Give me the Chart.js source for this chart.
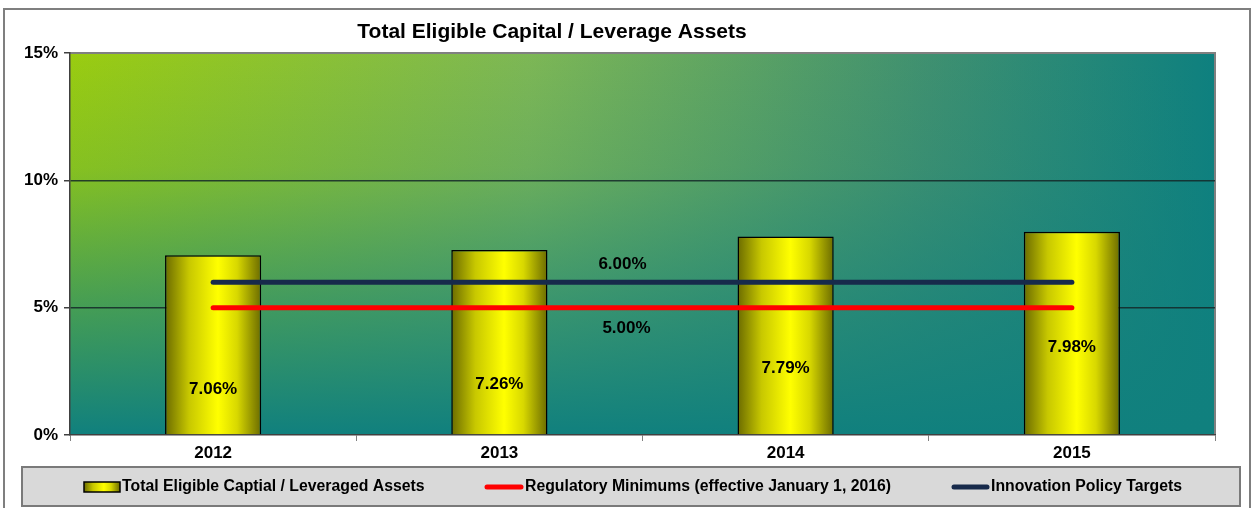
<!DOCTYPE html>
<html>
<head>
<meta charset="utf-8">
<script src="https://cdn.jsdelivr.net/npm/chart.js@4"></script>
<style>
  html, body { margin: 0; padding: 0; background: #fff; }
  #wrap { width: 1253px; height: 508px; position: relative; }
</style>
</head>
<body>
<div id="wrap"><canvas id="myChart" width="1253" height="508"></canvas></div>
<script>
// data
var years = ['2012', '2013', '2014', '2015'];
var capitalRatio = [7.06, 7.26, 7.79, 7.98];
var regulatoryMin = [5, 5, 5, 5];
var policyTarget = [6, 6, 6, 6];
var yTicks = [0, 5, 10, 15];

var titleText = 'Total Eligible Capital / Leverage Assets';
var seriesNames = ['Total Eligible Captial / Leveraged Assets',
                   'Regulatory Minimums (effective January 1, 2016)',
                   'Innovation Policy Targets'];

// where the value labels sit inside the bars (in axis units)
var barLabelAt = [1.8, 2.0, 2.6, 3.45];

var FONT = 'Arial, "Liberation Sans", sans-serif';

function barGradient(ctx, x0, x1) {
    var g = ctx.createLinearGradient(x0, 0, x1, 0);
    g.addColorStop(0, '#6b6b00');
    g.addColorStop(0.25, '#c8c800');
    g.addColorStop(0.55, '#ffff00');
    g.addColorStop(0.75, '#d8d800');
    g.addColorStop(1, '#6b6b00');
    return g;
}

// background, frame, title, labels and legend
var decor = {
    id: 'decor',
    beforeDraw: function(chart) {
        var ctx = chart.ctx, a = chart.chartArea;
        ctx.save();
        ctx.fillStyle = '#ffffff';
        ctx.fillRect(0, 0, chart.width, chart.height);
        // outer frame
        ctx.strokeStyle = '#7f7f7f';
        ctx.lineWidth = 2;
        ctx.strokeRect(4, 9, 1246, 520);
        // plot area gradient
        var gh = ctx.createLinearGradient(a.left, 0, a.right, 0);
        gh.addColorStop(0, '#9acc10');
        gh.addColorStop(0.4, '#7db755');
        gh.addColorStop(0.75, '#3f9070');
        gh.addColorStop(1, '#0e807f');
        ctx.fillStyle = gh;
        ctx.fillRect(a.left, a.top, a.right - a.left, a.bottom - a.top);
        var gv = ctx.createLinearGradient(0, a.top, 0, a.bottom);
        gv.addColorStop(0, 'rgba(16,128,126,0)');
        gv.addColorStop(0.3, 'rgba(16,128,126,0.15)');
        gv.addColorStop(0.65, 'rgba(16,128,126,0.6)');
        gv.addColorStop(1, 'rgba(16,128,126,1)');
        ctx.fillStyle = gv;
        ctx.fillRect(a.left, a.top, a.right - a.left, a.bottom - a.top);
        // plot border top/right
        ctx.strokeStyle = '#808080';
        ctx.lineWidth = 2;
        ctx.beginPath();
        ctx.moveTo(a.left, a.top);
        ctx.lineTo(a.right, a.top);
        ctx.lineTo(a.right, a.bottom);
        ctx.stroke();
        // title
        ctx.fillStyle = '#000';
        ctx.font = 'bold 21px ' + FONT;
        ctx.textAlign = 'center';
        ctx.textBaseline = 'middle';
        ctx.fillText(titleText, 552, 32);
        ctx.restore();
    },
    afterDatasetsDraw: function(chart) {
        var ctx = chart.ctx, a = chart.chartArea;
        var xs = chart.scales.x, ys = chart.scales.y;
        ctx.save();
        ctx.fillStyle = '#000';
        ctx.font = 'bold 17px ' + FONT;
        ctx.textAlign = 'center';
        ctx.textBaseline = 'middle';
        capitalRatio.forEach(function(v, i) {
            ctx.fillText(v.toFixed(2) + '%', xs.getPixelForValue(i), ys.getPixelForValue(barLabelAt[i]));
        });
        var mid = (xs.getPixelForValue(1) + xs.getPixelForValue(2)) / 2 - 20;
        ctx.fillText(policyTarget[0].toFixed(2) + '%', mid, ys.getPixelForValue(policyTarget[0]) - 18);
        ctx.fillText(regulatoryMin[0].toFixed(2) + '%', mid + 4, ys.getPixelForValue(regulatoryMin[0]) + 21);

        // legend box
        ctx.fillStyle = '#d9d9d9';
        ctx.fillRect(22, 467, 1218, 39);
        ctx.strokeStyle = '#7a7a7a';
        ctx.lineWidth = 2;
        ctx.strokeRect(22, 467, 1218, 39);
        var ly = 487;
        ctx.fillStyle = barGradient(ctx, 84, 120);
        ctx.fillRect(84, ly - 5, 36, 10);
        ctx.strokeStyle = '#000';
        ctx.lineWidth = 1.5;
        ctx.strokeRect(84, ly - 5, 36, 10);
        ctx.lineCap = 'round';
        ctx.lineWidth = 5;
        ctx.strokeStyle = '#ff0000';
        ctx.beginPath(); ctx.moveTo(487, ly); ctx.lineTo(521, ly); ctx.stroke();
        ctx.strokeStyle = '#172a4b';
        ctx.beginPath(); ctx.moveTo(954, ly); ctx.lineTo(987, ly); ctx.stroke();
        ctx.fillStyle = '#000';
        ctx.font = 'bold 15.8px ' + FONT;
        ctx.textAlign = 'left';
        ctx.fillText(seriesNames[0], 122, ly);
        ctx.fillText(seriesNames[1], 525, ly);
        ctx.fillText(seriesNames[2], 991, ly);
        ctx.restore();
    }
};

var ctx = document.getElementById('myChart').getContext('2d');
var myChart = new Chart(ctx, {
    type: 'bar',
    data: {
        labels: years,
        datasets: [{
            label: seriesNames[2],
            type: 'line',
            data: policyTarget,
            borderColor: '#172a4b',
            borderWidth: 5,
            borderCapStyle: 'round',
            pointRadius: 0,
            fill: false,
            order: 0
        }, {
            label: seriesNames[1],
            type: 'line',
            data: regulatoryMin,
            borderColor: '#ff0000',
            borderWidth: 5,
            borderCapStyle: 'round',
            pointRadius: 0,
            fill: false,
            order: 0
        }, {
            label: seriesNames[0],
            data: capitalRatio,
            backgroundColor: function(c) {
                var chart = c.chart;
                var xs = chart.scales.x;
                if (!xs || !chart.chartArea) return '#ffff00';
                var cx = xs.getPixelForValue(c.dataIndex);
                var w = (xs.right - xs.left) / years.length * 0.336;
                return barGradient(chart.ctx, cx - w / 2, cx + w / 2);
            },
            borderColor: '#000',
            borderWidth: 1.5,
            barPercentage: 0.336,
            categoryPercentage: 1,
            order: 1
        }]
    },
    options: {
        responsive: false,
        animation: false,
        layout: { padding: { top: 53, right: 38, bottom: 43, left: 0 } },
        plugins: {
            legend: { display: false },
            title: { display: false },
            tooltip: { enabled: false }
        },
        scales: {
            x: {
                offset: true,
                grid: { offset: true, drawOnChartArea: false, color: '#808080', tickLength: 6 },
                border: { color: '#404040', width: 1.5 },
                ticks: { color: '#000', font: { family: FONT, size: 17, weight: 'bold' }, padding: 2 },
                afterFit: function(s) { s.height = 30; }
            },
            y: {
                min: 0,
                max: 15,
                afterBuildTicks: function(s) { s.ticks = yTicks.map(function(v) { return { value: v }; }); },
                grid: {
                    color: function(c) { return c.tick && (c.tick.value === 0 || c.tick.value === 15) ? 'rgba(0,0,0,0)' : 'rgba(20,40,40,0.85)'; },
                    tickColor: '#404040',
                    tickLength: 6,
                    lineWidth: 1.5
                },
                border: { color: '#404040', width: 1.5 },
                ticks: {
                    color: '#000',
                    font: { family: FONT, size: 17, weight: 'bold' },
                    padding: 6,
                    callback: function(v) { return v + '%'; }
                },
                afterFit: function(s) { s.width = 70; }
            }
        }
    },
    plugins: [decor]
});
</script>
</body>
</html>
